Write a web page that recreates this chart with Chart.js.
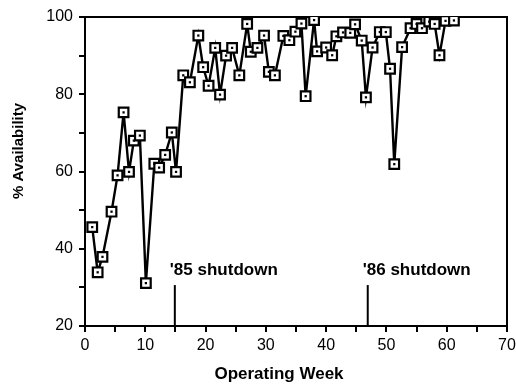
<!DOCTYPE html>
<html>
<head>
<meta charset="utf-8">
<script src="https://cdn.jsdelivr.net/npm/chart.js@4.4.1/dist/chart.umd.min.js"></script>
<style>
  html, body { margin: 0; padding: 0; background: #fff; }
  canvas { display: block; }
</style>
</head>
<body>
<canvas id="availChart" width="516" height="385"></canvas>
<script>
// Operating week of each measurement and the plant availability (%)
const weeks = [
    1.2, 2.1, 2.9, 4.4, 5.4, 6.4, 7.3, 8.1, 9.1, 10.1,
    11.5, 12.3, 13.3, 14.4, 15.1, 16.3, 17.4, 18.8, 19.6, 20.5,
    21.6, 22.4, 23.4, 24.4, 25.6, 26.9, 27.5, 28.6, 29.7, 30.5,
    31.5, 32.9, 33.9, 34.9, 35.9, 36.6, 38.0, 38.5, 40.0, 41.0,
    41.7, 42.8, 44.0, 44.8, 45.9, 46.6, 47.7, 48.9, 49.9, 50.6,
    51.3, 52.6, 54.0, 55.0, 55.9, 57.1, 58.0, 58.8, 59.8, 61.2
];
const availability = [
    45.6, 33.9, 37.9, 49.6, 59.0, 75.3, 59.9, 68.0, 69.3, 31.1,
    62.0, 61.0, 64.3, 70.1, 59.9, 84.9, 83.1, 95.2, 87.0, 82.2,
    92.0, 79.9, 90.0, 92.0, 84.9, 98.2, 91.0, 92.0, 95.2, 85.8,
    84.9, 95.1, 94.0, 96.2, 98.3, 79.5, 99.2, 91.1, 92.1, 90.1,
    95.0, 96.0, 95.9, 98.1, 93.9, 79.2, 92.1, 96.1, 96.1, 86.6,
    61.9, 92.2, 97.1, 98.2, 97.1, 98.8, 98.2, 90.1, 99.0, 99.1
];

// Shutdown markers
const shutdownWeeks = [14.9, 46.9];
const shutdownLabels = ["'85 shutdown", "'86 shutdown"];
const shutdownRange = [20, 30.6];

// Axis tick labels
const xTickLabels = [0, 10, 20, 30, 40, 50, 60, 70];
const yTickLabels = [20, 40, 60, 80, 100];

const points = weeks.map((w, i) => ({ x: w, y: availability[i] }));

const shutdownSets = shutdownWeeks.map(w => ({
    data: shutdownRange.map(v => ({ x: w, y: v })),
    showLine: true,
    borderColor: '#000',
    borderWidth: 2,
    pointRadius: 0,
    order: 3
}));

const FONT = "'Liberation Sans', Arial, Helvetica, sans-serif";

// frame round the plot, axis titles and shutdown captions
const decorations = {
    id: 'decorations',
    beforeDatasetsDraw(chart) {
        const { ctx, chartArea: a } = chart;
        ctx.save();
        ctx.strokeStyle = '#000';
        ctx.lineWidth = 2;
        ctx.strokeRect(a.left, a.top, a.right - a.left, a.bottom - a.top);
        ctx.restore();
    },
    afterDraw(chart) {
        const { ctx, chartArea: a, scales } = chart;
        ctx.save();
        ctx.fillStyle = '#000';

        ctx.font = 'bold 17px ' + FONT;
        ctx.textAlign = 'center';
        ctx.textBaseline = 'middle';
        ctx.fillText('Operating Week', a.left + 194, 374);

        ctx.save();
        ctx.translate(19, 151);
        ctx.rotate(-Math.PI / 2);
        ctx.font = 'bold 15px ' + FONT;
        ctx.fillText('% Availability', 0, 0);
        ctx.restore();

        ctx.font = 'bold 17px ' + FONT;
        ctx.textAlign = 'left';
        ctx.textBaseline = 'alphabetic';
        shutdownWeeks.forEach((w, i) => {
            const px = scales.x.getPixelForValue(w);
            const py = scales.y.getPixelForValue(shutdownRange[1]);
            ctx.fillText(shutdownLabels[i], px - 5, py - 10);
        });
        ctx.restore();
    }
};

new Chart(document.getElementById('availChart'), {
    type: 'scatter',
    data: {
        datasets: [
            {
                data: points,
                showLine: true,
                borderColor: '#000',
                borderWidth: 2.4,
                pointStyle: 'rect',
                pointRadius: 6.8,
                pointBorderWidth: 2.2,
                pointBorderColor: '#000',
                pointBackgroundColor: '#fff',
                order: 2
            },
            {
                // small dot inside each square marker
                data: points,
                showLine: false,
                pointStyle: 'rect',
                pointRadius: 1.6,
                pointBorderWidth: 0,
                pointBackgroundColor: '#000',
                order: 1
            },
            ...shutdownSets
        ]
    },
    options: {
        responsive: false,
        animation: false,
        layout: { padding: { left: 0, right: 9, top: 17, bottom: 0 } },
        plugins: {
            legend: { display: false },
            tooltip: { enabled: false }
        },
        scales: {
            x: {
                type: 'linear',
                min: 0,
                max: 70,
                afterFit: s => {
                    s.height = 59;
                    s.paddingLeft = 0;
                    s.paddingRight = 0;
                },
                ticks: {
                    stepSize: 5,
                    autoSkip: false,
                    maxRotation: 0,
                    padding: 4,
                    color: '#000',
                    font: { family: FONT, size: 16 },
                    callback: v => xTickLabels.includes(v) ? v : ''
                },
                grid: { drawOnChartArea: false, tickLength: 6, color: '#000', lineWidth: 2 },
                border: { color: '#000', width: 2 }
            },
            y: {
                min: 20,
                max: 100,
                afterFit: s => {
                    s.width = 85;
                    s.paddingTop = 0;
                    s.paddingBottom = 0;
                },
                ticks: {
                    stepSize: 10,
                    autoSkip: false,
                    padding: 6,
                    color: '#000',
                    font: { family: FONT, size: 16 },
                    callback: v => yTickLabels.includes(v) ? v : ''
                },
                grid: { drawOnChartArea: false, tickLength: 6, color: '#000', lineWidth: 2 },
                border: { color: '#000', width: 2 }
            }
        }
    },
    plugins: [decorations]
});
</script>
</body>
</html>
